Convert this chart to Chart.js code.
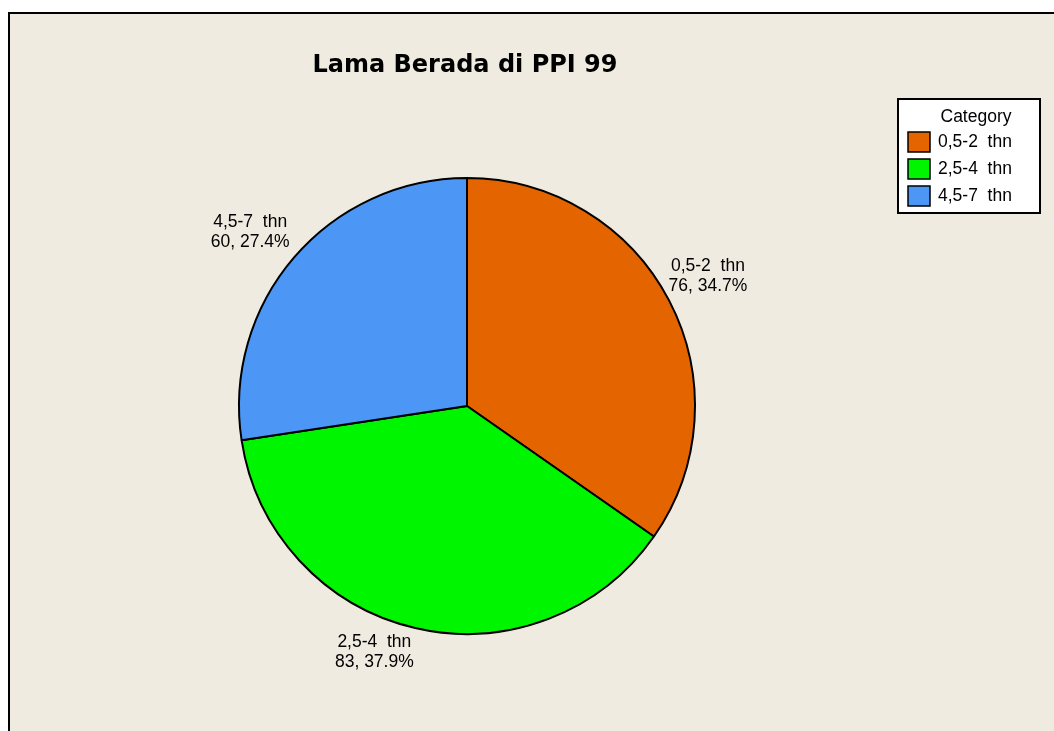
<!DOCTYPE html>
<html>
<head>
<meta charset="utf-8">
<script src="https://cdn.jsdelivr.net/npm/chart.js@4.4.0/dist/chart.umd.min.js"></script>
<style>
  html, body { margin: 0; padding: 0; background: #ffffff; }
  #wrap { width: 1054px; height: 731px; }
</style>
</head>
<body>
<div id="wrap"><canvas id="pie"></canvas></div>
<script>
// Data
const categories = ["0,5-2  thn", "2,5-4  thn", "4,5-7  thn"];
const counts = [76, 83, 60];
const percents = ["34.7%", "37.9%", "27.4%"];
const sliceColors = ["#E46400", "#00F500", "#4C96F5"];

const chartTitle = "Lama Berada di PPI 99";
const legendTitle = "Category";
const bgColor = "#EFEBE1";
const labelFont = "17.5px 'Liberation Sans', Arial, sans-serif";

// Background panel with the black frame on top and left
const framePlugin = {
    id: "frame",
    beforeDraw(chart) {
        const ctx = chart.ctx;
        ctx.save();
        ctx.fillStyle = "#ffffff";
        ctx.fillRect(0, 0, chart.width, chart.height);
        ctx.fillStyle = bgColor;
        ctx.fillRect(9, 13, chart.width, chart.height);
        ctx.strokeStyle = "#000000";
        ctx.lineWidth = 2;
        ctx.beginPath();
        ctx.moveTo(9, chart.height + 5);
        ctx.lineTo(9, 13);
        ctx.lineTo(chart.width + 5, 13);
        ctx.stroke();

        // title
        ctx.fillStyle = "#000000";
        ctx.font = "bold 24px 'DejaVu Sans', Verdana, sans-serif";
        ctx.textAlign = "center";
        ctx.textBaseline = "middle";
        ctx.fillText(chartTitle, 465, 66);
        ctx.restore();
    }
};

// Slice labels: inner corner of the text block sits just outside the arc
const sliceLabelPlugin = {
    id: "sliceLabels",
    afterDatasetsDraw(chart) {
        const ctx = chart.ctx;
        const meta = chart.getDatasetMeta(0);
        ctx.save();
        ctx.font = labelFont;
        ctx.fillStyle = "#000000";
        ctx.textBaseline = "top";
        const lineH = 20;
        meta.data.forEach((arc, i) => {
            const mid = (arc.startAngle + arc.endAngle) / 2;
            const r = arc.outerRadius + 6;
            const px = arc.x + Math.cos(mid) * r;
            const py = arc.y + Math.sin(mid) * r;
            const lines = [categories[i], counts[i] + ", " + percents[i]];
            const w = Math.max(...lines.map(t => ctx.measureText(t).width));
            const h = lineH * lines.length;
            const left = Math.cos(mid) >= 0 ? px - 6 : px - w;
            const top = Math.sin(mid) <= 0 ? py - h : py;
            lines.forEach((t, k) => {
                ctx.textAlign = "center";
                ctx.fillText(t, left + w / 2, top + k * lineH);
            });
        });
        ctx.restore();
    }
};

// Legend box in the upper right corner
const legendBoxPlugin = {
    id: "legendBox",
    afterDraw(chart) {
        const ctx = chart.ctx;
        ctx.save();
        ctx.fillStyle = "#ffffff";
        ctx.fillRect(898, 99, 142, 114);
        ctx.strokeStyle = "#000000";
        ctx.lineWidth = 2;
        ctx.strokeRect(898, 99, 142, 114);

        ctx.font = labelFont;
        ctx.fillStyle = "#000000";
        ctx.textBaseline = "middle";
        ctx.textAlign = "center";
        ctx.fillText(legendTitle, 976, 117);

        categories.forEach((c, i) => {
            const y = 132 + i * 27;
            ctx.fillStyle = sliceColors[i];
            ctx.fillRect(908, y, 22, 20);
            ctx.lineWidth = 1.5;
            ctx.strokeStyle = "#000000";
            ctx.strokeRect(908, y, 22, 20);
            ctx.fillStyle = "#000000";
            ctx.textAlign = "left";
            ctx.fillText(c, 938, y + 10);
        });
        ctx.restore();
    }
};

new Chart(document.getElementById("pie"), {
    type: "pie",
    data: {
        labels: categories,
        datasets: [{
            data: counts,
            backgroundColor: sliceColors,
            borderColor: "#000000",
            borderWidth: 2
        }]
    },
    options: {
        responsive: true,
        maintainAspectRatio: false,
        animation: false,
        rotation: 0,
        layout: {
            padding: { top: 177, bottom: 96, left: 238, right: 358 }
        },
        plugins: {
            legend: { display: false },
            tooltip: { enabled: false },
            title: { display: false }
        }
    },
    plugins: [framePlugin, sliceLabelPlugin, legendBoxPlugin]
});
</script>
</body>
</html>
